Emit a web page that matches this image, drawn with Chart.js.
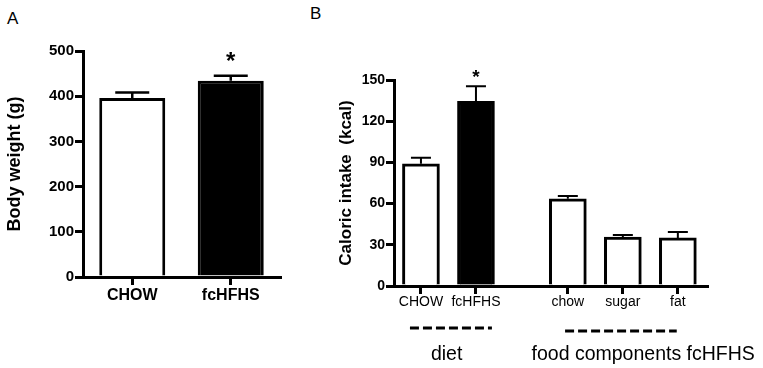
<!DOCTYPE html>
<html>
<head>
<meta charset="utf-8">
<script src="https://cdn.jsdelivr.net/npm/chart.js@4.4.1/dist/chart.umd.min.js"></script>
<style>
  body { margin: 0; background: #fff; width: 763px; height: 368px; overflow: hidden; position: relative;
         font-family: "Liberation Sans", Arial, sans-serif; }
  .panel { position: absolute; top: 0; }
  .tag { position: absolute; font-size: 17px; line-height: 1; color: #000; }
</style>
</head>
<body>
<div class="tag" style="left:7px;top:10px">A</div>
<div class="tag" style="left:310px;top:5px">B</div>
<div class="panel" style="left:0"><canvas id="bw" width="300" height="320"></canvas></div>
<div class="panel" style="left:300px"><canvas id="ci" width="463" height="368"></canvas></div>
<script>
// panel A: body weight
const weightLabels = ["CHOW", "fcHFHS"];
const weightValues = [396, 434];
const weightErrors = [12, 11];
const weightStars = ["", "*"];

// panel B: caloric intake
const intakeLabels = ["CHOW", "fcHFHS", "chow", "sugar", "fat"];
const intakeValues = [89, 134.5, 63.5, 35.7, 35];
const intakeErrors = [4.3, 11, 2.1, 1.5, 4.4];
const intakeStars = ["", "*", "", "", ""];
const intakeGroup = [0, 0, 1, 1, 1];
const groupNames = ["diet", "food components fcHFHS"];

const FONT = '"Liberation Sans", Arial, sans-serif';
const GROUP_GAP = 0.67;
const slots = intakeGroup.map((g, i) => i + g * GROUP_GAP);

// upward-only error bars + significance stars
const errBars = {
  id: "errbars",
  afterDatasetsDraw(chart, args, opts) {
    const ctx = chart.ctx;
    const y = chart.scales.y;
    const meta = chart.getDatasetMeta(0);
    ctx.save();
    ctx.strokeStyle = "#000";
    ctx.fillStyle = "#000";
    ctx.lineWidth = opts.lineWidth;
    meta.data.forEach((bar, i) => {
      const v = chart.data.datasets[0].data[i];
      const val = typeof v === "object" ? v.y : v;
      const top = y.getPixelForValue(val + opts.errors[i]);
      ctx.beginPath();
      ctx.moveTo(bar.x, bar.y);
      ctx.lineTo(bar.x, top);
      ctx.moveTo(bar.x - opts.cap / 2, top);
      ctx.lineTo(bar.x + opts.cap / 2, top);
      ctx.stroke();
      if (opts.stars[i]) {
        ctx.font = "bold " + opts.starSize + "px " + FONT;
        ctx.textAlign = "center";
        ctx.textBaseline = "alphabetic";
        ctx.fillText(opts.stars[i], bar.x, top - opts.starGap);
      }
    });
    ctx.restore();
  }
};

// dashed group lines and group names under panel B
const groupMarks = {
  id: "groups",
  afterDraw(chart, args, opts) {
    const ctx = chart.ctx;
    const x = chart.scales.x;
    ctx.save();
    ctx.strokeStyle = "#000";
    ctx.fillStyle = "#000";
    ctx.lineWidth = 3;
    ctx.setLineDash([9, 4]);
    opts.lines.forEach(l => {
      ctx.beginPath();
      ctx.moveTo(x.getPixelForValue(l.from), l.y);
      ctx.lineTo(x.getPixelForValue(l.to), l.y);
      ctx.stroke();
    });
    ctx.setLineDash([]);
    ctx.font = "19.5px " + FONT;
    ctx.textAlign = "center";
    ctx.textBaseline = "alphabetic";
    groupNames.forEach((name, i) => {
      ctx.fillText(name, x.getPixelForValue(opts.labelAt[i]), opts.labelY);
    });
    ctx.restore();
  }
};

const axisGrid = {
  drawOnChartArea: false, drawTicks: true, tickLength: 8, tickWidth: 3,
  tickColor: "#000", color: "#000", lineWidth: 3, offset: false
};
const axisBorder = { display: true, color: "#000", width: 3 };

new Chart(document.getElementById("bw"), {
  type: "bar",
  data: {
    labels: weightLabels,
    datasets: [{
      data: weightValues,
      backgroundColor: ["#fff", "#000"],
      borderColor: "#000",
      borderWidth: 3,
      barPercentage: 0.67,
      categoryPercentage: 1
    }]
  },
  plugins: [errBars],
  options: {
    responsive: false,
    animation: false,
    layout: { padding: { top: 51, right: 20, left: 0, bottom: 0 } },
    plugins: {
      legend: { display: false },
      tooltip: { enabled: false },
      errbars: { errors: weightErrors, stars: weightStars, cap: 34, lineWidth: 2.5, starSize: 24, starGap: 7 }
    },
    scales: {
      x: {
        grid: axisGrid, border: axisBorder,
        ticks: { color: "#000", font: { family: FONT, size: 16, weight: "bold" }, padding: 1 },
        afterFit: s => { s.height = 43; }
      },
      y: {
        min: 0, max: 500,
        grid: axisGrid, border: axisBorder,
        ticks: { stepSize: 100, color: "#000", font: { family: FONT, size: 15, weight: "bold" }, padding: 1 },
        title: { display: true, text: "Body weight (g)", color: "#000",
                 font: { family: FONT, size: 18, weight: "bold" }, padding: { top: 4, bottom: 0 } },
        afterFit: s => { s.width = 83; }
      }
    }
  }
});

new Chart(document.getElementById("ci"), {
  type: "bar",
  data: {
    datasets: [{
      data: slots.map((s, i) => ({ x: s, y: intakeValues[i] })),
      backgroundColor: ["#fff", "#000", "#fff", "#fff", "#fff"],
      borderColor: "#000",
      borderWidth: 3,
      barThickness: 37
    }]
  },
  plugins: [errBars, groupMarks],
  options: {
    responsive: false,
    animation: false,
    layout: { padding: { top: 80, right: 56, left: 0, bottom: 0 } },
    plugins: {
      legend: { display: false },
      tooltip: { enabled: false },
      errbars: { errors: intakeErrors, stars: intakeStars, cap: 20, lineWidth: 2, starSize: 19, starGap: 3 },
      groups: {
        lines: [{ from: -0.2, to: 1.29, y: 328 }, { from: 2.62, to: 4.65, y: 331 }],
        labelAt: [0.467, 4.04],
        labelY: 360
      }
    },
    scales: {
      x: {
        type: "linear", min: -0.49, max: 5.2, offset: false,
        grid: axisGrid, border: axisBorder,
        afterBuildTicks: s => { s.ticks = slots.map(v => ({ value: v })); },
        ticks: {
          autoSkip: false, maxRotation: 0, color: "#000", padding: 0,
          font: { family: FONT, size: 14 },
          callback: (v, i) => intakeLabels[i]
        },
        afterFit: s => { s.height = 82; }
      },
      y: {
        min: 0, max: 150,
        grid: axisGrid, border: axisBorder,
        ticks: { stepSize: 30, color: "#000", font: { family: FONT, size: 14, weight: "bold" }, padding: 1 },
        title: { display: true, text: "Caloric intake  (kcal)", color: "#000",
                 font: { family: FONT, size: 17, weight: "bold" }, padding: { top: 36, bottom: 0 } },
        afterFit: s => { s.width = 94; }
      }
    }
  }
});
</script>
</body>
</html>
